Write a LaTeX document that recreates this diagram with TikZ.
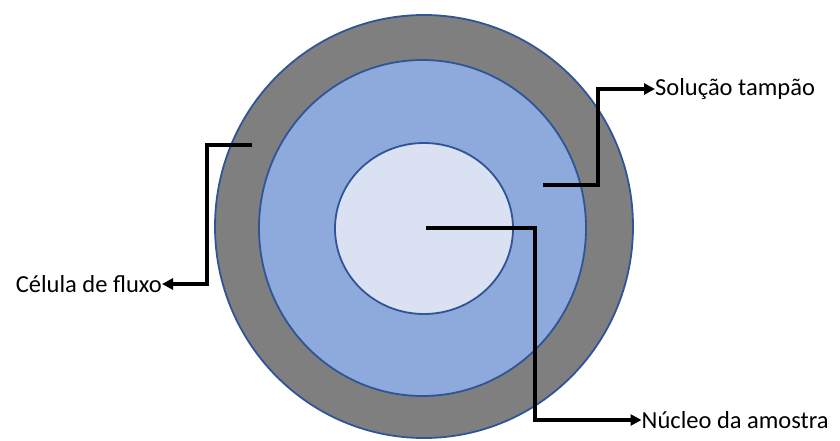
\documentclass[tikz,border=0pt]{standalone}
\usepackage{fontspec}
\setmainfont{Carlito}
\usepackage{tikz}
\usetikzlibrary{arrows.meta}
\definecolor{cellgray}{RGB}{127,127,127}
\definecolor{buffblue}{RGB}{142,169,219}
\definecolor{corelight}{RGB}{217,225,242}
\definecolor{rimblue}{RGB}{47,85,151}

\begin{document}
\begin{tikzpicture}[x=1pt,y=1pt,
    ring/.style={draw=rimblue,line width=1.8pt},
    leader/.style={black,line width=3.5pt,-{Triangle[length=11pt,width=11pt]}},
    tag/.style={inner sep=0pt,font=\fontsize{24.5}{29}\selectfont}]
    \useasboundingbox (0,0) rectangle (840,440);
    \path[ring,fill=cellgray] (424,213.5) ellipse [x radius=209,y radius=211.5];
    \path[ring,fill=buffblue] (422.5,212) ellipse [x radius=163.5,y radius=168];
    \path[ring,fill=corelight] (424,211.5) ellipse [x radius=89,y radius=85.5];
    % free ends of the leaders, inside each layer
    \coordinate (cellpt) at (252,295);
    \coordinate (buffpt) at (543,255);
    \coordinate (corept) at (426,212);
    \node[tag,anchor=east] (cell) at (162,156) {Célula de fluxo};
    \node[tag,anchor=west] (buff) at (655,351) {Solução tampão};
    \node[tag,anchor=west] (core) at (641.5,20) {Núcleo da amostra};
    \draw[leader] (cellpt) -- (207,295) |- (cell.east);
    \draw[leader] (buffpt) -- (598,255) |- (buff.west);
    \draw[leader] (corept) -- (535,212) |- (core.west);
  \end{tikzpicture}
\end{document}
